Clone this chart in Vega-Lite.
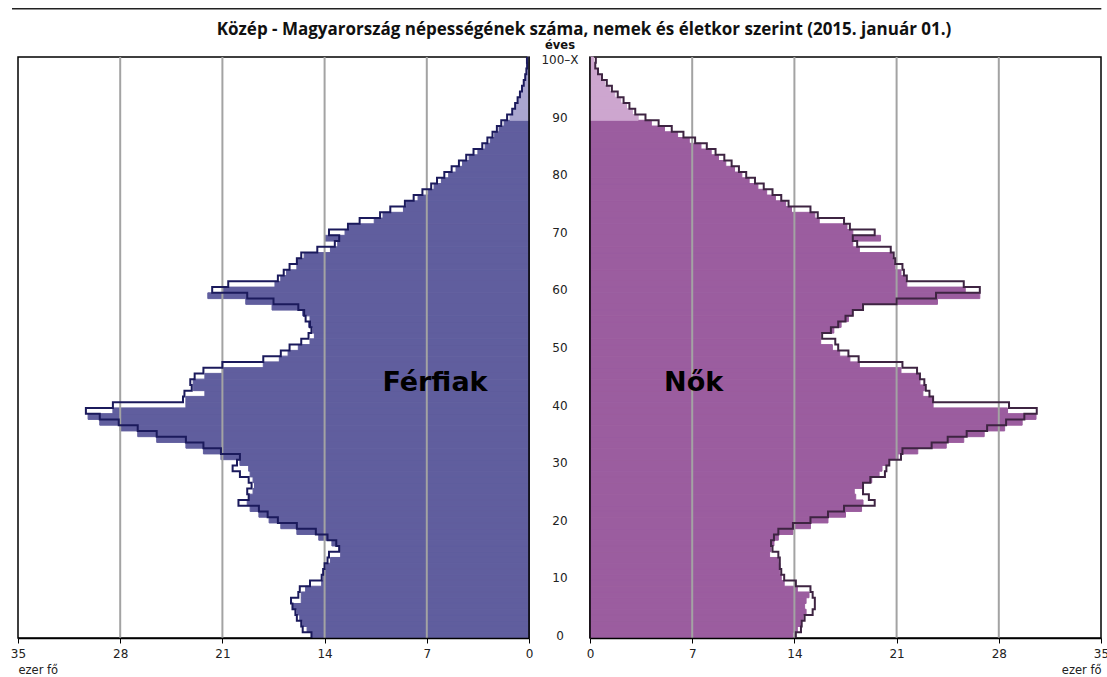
{
"$schema":"https://vega.github.io/schema/vega-lite/v6.json",
"background":"white",
"padding":{"left":9,"top":7,"right":4,"bottom":3},
"bounds":"flush",
"spacing":61,
"config":{"view":{"stroke":"#000","strokeWidth":1.5},"axis":{"labelFont":"DejaVu Sans","labelFontSize":12,"labelColor":"#222","titleFont":"DejaVu Sans","titleFontSize":11.5,"titleFontWeight":"normal","titleColor":"#222"}},
"datasets":{"pop":[
{"age":0,"men":14.9,"men_outline":14.9,"women":13.9,"women_outline":14.1},
{"age":1,"men":15.2,"men_outline":15.5,"women":14.2,"women_outline":14.45},
{"age":2,"men":15.5,"men_outline":15.6,"women":14.45,"women_outline":14.5},
{"age":3,"men":15.7,"men_outline":15.9,"women":14.6,"women_outline":14.7},
{"age":4,"men":15.9,"men_outline":16.0,"women":14.8,"women_outline":15.25},
{"age":5,"men":16.2,"men_outline":16.2,"women":14.7,"women_outline":15.4},
{"age":6,"men":15.6,"men_outline":16.3,"women":14.8,"women_outline":15.4},
{"age":7,"men":15.6,"men_outline":15.8,"women":15.0,"women_outline":15.25},
{"age":8,"men":15.3,"men_outline":15.7,"women":14.2,"women_outline":15.1},
{"age":9,"men":14.2,"men_outline":15.0,"women":13.3,"women_outline":14.1},
{"age":10,"men":14.1,"men_outline":14.2,"women":13.1,"women_outline":13.3},
{"age":11,"men":14.0,"men_outline":14.1,"women":13.0,"women_outline":13.1},
{"age":12,"men":13.9,"men_outline":14.0,"women":13.0,"women_outline":13.0},
{"age":13,"men":13.6,"men_outline":13.8,"women":12.9,"women_outline":13.0},
{"age":14,"men":12.9,"men_outline":13.7,"women":12.3,"women_outline":12.9},
{"age":15,"men":13.0,"men_outline":13.0,"women":12.4,"women_outline":12.5},
{"age":16,"men":13.5,"men_outline":13.2,"women":12.6,"women_outline":12.4},
{"age":17,"men":14.4,"men_outline":13.8,"women":12.9,"women_outline":12.6},
{"age":18,"men":15.9,"men_outline":14.6,"women":13.9,"women_outline":12.9},
{"age":19,"men":17.0,"men_outline":15.9,"women":15.1,"women_outline":13.9},
{"age":20,"men":17.8,"men_outline":17.2,"women":16.3,"women_outline":15.1},
{"age":21,"men":18.5,"men_outline":17.9,"women":17.5,"women_outline":16.3},
{"age":22,"men":19.1,"men_outline":18.5,"women":18.6,"women_outline":17.4},
{"age":23,"men":19.3,"men_outline":19.9,"women":18.7,"women_outline":19.5},
{"age":24,"men":19.2,"men_outline":19.2,"women":18.2,"women_outline":19.1},
{"age":25,"men":18.9,"men_outline":19.3,"women":18.1,"women_outline":18.7},
{"age":26,"men":18.8,"men_outline":19.0,"women":18.7,"women_outline":18.7},
{"age":27,"men":18.9,"men_outline":19.2,"women":19.3,"women_outline":19.2},
{"age":28,"men":19.1,"men_outline":19.8,"women":19.8,"women_outline":20.2},
{"age":29,"men":19.2,"men_outline":20.3,"women":20.0,"women_outline":20.3},
{"age":30,"men":19.8,"men_outline":20.0,"women":20.5,"women_outline":20.5},
{"age":31,"men":21.1,"men_outline":19.8,"women":21.1,"women_outline":21.3},
{"age":32,"men":22.3,"men_outline":21.1,"women":22.45,"women_outline":21.4},
{"age":33,"men":23.5,"men_outline":22.3,"women":24.4,"women_outline":23.4},
{"age":34,"men":25.5,"men_outline":23.5,"women":25.6,"women_outline":24.5},
{"age":35,"men":26.8,"men_outline":25.5,"women":27.0,"women_outline":25.8},
{"age":36,"men":28.0,"men_outline":26.8,"women":28.4,"women_outline":27.2},
{"age":37,"men":29.4,"men_outline":28.1,"women":29.6,"women_outline":28.5},
{"age":38,"men":30.2,"men_outline":29.4,"women":30.55,"women_outline":29.75},
{"age":39,"men":28.5,"men_outline":30.35,"women":28.6,"women_outline":30.6},
{"age":40,"men":23.5,"men_outline":28.5,"women":23.5,"women_outline":28.7},
{"age":41,"men":23.5,"men_outline":23.7,"women":23.5,"women_outline":23.5},
{"age":42,"men":22.2,"men_outline":23.6,"women":22.8,"women_outline":23.25},
{"age":43,"men":23.0,"men_outline":23.1,"women":22.9,"women_outline":23.0},
{"age":44,"men":23.0,"men_outline":23.2,"women":22.6,"women_outline":22.9},
{"age":45,"men":22.2,"men_outline":22.9,"women":22.5,"women_outline":22.6},
{"age":46,"men":21.0,"men_outline":22.3,"women":21.3,"women_outline":22.4},
{"age":47,"men":18.2,"men_outline":21.0,"women":18.45,"women_outline":21.4},
{"age":48,"men":17.1,"men_outline":18.2,"women":17.8,"women_outline":18.4},
{"age":49,"men":16.5,"men_outline":17.0,"women":17.1,"women_outline":17.7},
{"age":50,"men":15.8,"men_outline":16.4,"women":16.6,"women_outline":17.0},
{"age":51,"men":15.0,"men_outline":15.6,"women":15.8,"women_outline":16.8},
{"age":52,"men":14.7,"men_outline":15.1,"women":15.8,"women_outline":15.9},
{"age":53,"men":14.8,"men_outline":14.9,"women":16.7,"women_outline":16.5},
{"age":54,"men":15.1,"men_outline":15.0,"women":17.2,"women_outline":17.0},
{"age":55,"men":15.0,"men_outline":15.3,"women":17.7,"women_outline":17.5},
{"age":56,"men":15.5,"men_outline":15.4,"women":18.0,"women_outline":18.0},
{"age":57,"men":17.6,"men_outline":15.8,"women":18.6,"women_outline":18.7},
{"age":58,"men":19.4,"men_outline":17.5,"women":23.8,"women_outline":21.0},
{"age":59,"men":22.0,"men_outline":19.3,"women":26.7,"women_outline":23.7},
{"age":60,"men":21.0,"men_outline":21.7,"women":25.7,"women_outline":26.7},
{"age":61,"men":17.4,"men_outline":20.6,"women":21.7,"women_outline":25.6},
{"age":62,"men":17.0,"men_outline":17.2,"women":21.6,"women_outline":21.7},
{"age":63,"men":16.6,"men_outline":16.8,"women":21.3,"women_outline":21.5},
{"age":64,"men":15.9,"men_outline":16.4,"women":20.9,"women_outline":21.4},
{"age":65,"men":15.9,"men_outline":15.9,"women":20.8,"women_outline":20.9},
{"age":66,"men":15.4,"men_outline":15.6,"women":20.7,"women_outline":20.8},
{"age":67,"men":13.6,"men_outline":14.5,"women":18.45,"women_outline":20.6},
{"age":68,"men":13.1,"men_outline":13.3,"women":18.0,"women_outline":18.3},
{"age":69,"men":14.0,"men_outline":13.0,"women":19.9,"women_outline":18.0},
{"age":70,"men":12.6,"men_outline":13.7,"women":18.0,"women_outline":19.5},
{"age":71,"men":12.3,"men_outline":12.4,"women":17.6,"women_outline":17.8},
{"age":72,"men":10.6,"men_outline":11.6,"women":15.7,"women_outline":17.4},
{"age":73,"men":10.0,"men_outline":10.2,"women":15.4,"women_outline":15.6},
{"age":74,"men":8.6,"men_outline":9.5,"women":13.8,"women_outline":15.1},
{"age":75,"men":8.4,"men_outline":8.5,"women":13.4,"women_outline":13.6},
{"age":76,"men":7.6,"men_outline":7.9,"women":12.7,"women_outline":13.1},
{"age":77,"men":6.9,"men_outline":7.3,"women":12.1,"women_outline":12.5},
{"age":78,"men":6.5,"men_outline":6.7,"women":11.5,"women_outline":11.9},
{"age":79,"men":6.0,"men_outline":6.3,"women":10.9,"women_outline":11.3},
{"age":80,"men":5.5,"men_outline":5.8,"women":10.4,"women_outline":10.7},
{"age":81,"men":5.0,"men_outline":5.3,"women":9.9,"women_outline":10.2},
{"age":82,"men":4.55,"men_outline":4.8,"women":9.3,"women_outline":9.7},
{"age":83,"men":4.1,"men_outline":4.3,"women":8.8,"women_outline":9.2},
{"age":84,"men":3.5,"men_outline":3.8,"women":8.3,"women_outline":8.6},
{"age":85,"men":3.0,"men_outline":3.2,"women":7.6,"women_outline":8.0},
{"age":86,"men":2.65,"men_outline":2.85,"women":6.8,"women_outline":7.2},
{"age":87,"men":2.35,"men_outline":2.5,"women":6.0,"women_outline":6.4},
{"age":88,"men":2.05,"men_outline":2.2,"women":5.1,"women_outline":5.6},
{"age":89,"men":1.7,"men_outline":1.9,"women":4.2,"women_outline":4.7},
{"age":90,"men":1.3,"men_outline":1.5,"women":3.3,"women_outline":3.8},
{"age":91,"men":1.05,"men_outline":1.15,"women":2.9,"women_outline":3.1},
{"age":92,"men":0.85,"men_outline":0.95,"women":2.5,"women_outline":2.7},
{"age":93,"men":0.7,"men_outline":0.78,"women":2.1,"women_outline":2.3},
{"age":94,"men":0.55,"men_outline":0.62,"women":1.7,"women_outline":1.9},
{"age":95,"men":0.42,"men_outline":0.48,"women":1.35,"women_outline":1.5},
{"age":96,"men":0.32,"men_outline":0.36,"women":1.0,"women_outline":1.15},
{"age":97,"men":0.22,"men_outline":0.26,"women":0.7,"women_outline":0.82},
{"age":98,"men":0.15,"men_outline":0.18,"women":0.45,"women_outline":0.55},
{"age":99,"men":0.1,"men_outline":0.13,"women":0.3,"women_outline":0.36},
{"age":100,"men":0.12,"men_outline":0.14,"women":0.25,"women_outline":0.4}
]},
"hconcat":[
{
"width":511,"height":581,
"layer":[
{"data":{"name":"pop"},
"transform":[{"bin":{"step":1,"extent":[0,101],"nice":false},"field":"age","as":["a0","a1"]}],
"mark":{"type":"rect","strokeWidth":1},
"encoding":{
"x":{"field":"men","type":"quantitative","scale":{"domain":[0,35],"reverse":true,"nice":false},"axis":{"values":[0,7,14,21,28,35],"format":"d","grid":false,"domainColor":"#000","domainWidth":1.5,"tickColor":"#000","tickSize":5,"labelPadding":5,"labelFlush":false,"labelOverlap":false,"title":"ezer fő","titleX":0,"titleY":26,"titleAlign":"left","titleBaseline":"top","zindex":1}},
"x2":{"datum":0},
"y":{"field":"a0","type":"quantitative","scale":{"domain":[0,101],"nice":false,"zero":false},"axis":null},
"y2":{"field":"a1"},
"color":{"condition":{"test":"datum.age >= 90","value":"#aaa6cf"},"value":"#605e9e"},
"stroke":{"condition":{"test":"datum.age >= 90","value":"#aaa6cf"},"value":"#605e9e"}
}},
{"data":{"values":[{"g":7},{"g":14},{"g":21},{"g":28}]},
"mark":{"type":"rule","color":"#a3a3a3","strokeWidth":2},
"encoding":{"x":{"field":"g","type":"quantitative"}}},
{"data":{"name":"pop"},
"transform":[{"bin":{"step":1,"extent":[0,101],"nice":false},"field":"age","as":["a0","a1"]},{"fold":["a0","a1"],"as":["edge","ypos"]}],
"mark":{"type":"line","color":"#1b1a5c","strokeWidth":2,"strokeJoin":"miter"},
"encoding":{"x":{"field":"men_outline","type":"quantitative"},"y":{"field":"ypos","type":"quantitative"},"order":{"value":null}}},
{"data":{"values":[{"r":0}]},
"mark":{"type":"rule","color":"#000","strokeWidth":1.5},
"encoding":{"x":{"datum":0}}},
{"data":{"values":[{"label":"Férfiak"}]},
"mark":{"type":"text","font":"DejaVu Sans","fontSize":27,"fontWeight":"bold","color":"#000","align":"center","baseline":"middle"},
"encoding":{"x":{"datum":6.44},"y":{"datum":44.3},"text":{"field":"label"}}},
{"data":{"values":[{"label":"Közép - Magyarország népességének száma, nemek és életkor szerint (2015. január 01.)"}]},
"mark":{"type":"text","font":"Open Sans","fontSize":17,"fontWeight":"bold","color":"#111","align":"center","baseline":"middle"},
"encoding":{"x":{"datum":-3.77},"y":{"datum":105.75},"text":{"field":"label"}}},
{"data":{"values":[{"r":0}]},
"mark":{"type":"rule","color":"#222","strokeWidth":1.5},
"encoding":{"x":{"datum":35.41},"x2":{"datum":-39.2},"y":{"datum":109.4}}}
]
},
{
"width":511,"height":581,
"layer":[
{"data":{"name":"pop"},
"transform":[{"bin":{"step":1,"extent":[0,101],"nice":false},"field":"age","as":["a0","a1"]}],
"mark":{"type":"rect","strokeWidth":1},
"encoding":{
"x":{"field":"women","type":"quantitative","scale":{"domain":[0,35],"nice":false},"axis":{"values":[0,7,14,21,28,35],"format":"d","grid":false,"domainColor":"#000","domainWidth":1.5,"tickColor":"#000","tickSize":5,"labelPadding":5,"labelFlush":false,"labelOverlap":false,"title":"ezer fő","titleX":511,"titleY":26,"titleAlign":"right","titleBaseline":"top","zindex":1}},
"x2":{"datum":0},
"y":{"field":"a0","type":"quantitative","scale":{"domain":[0,101],"nice":false,"zero":false},"axis":{"values":[0.5,5.5,10.5,15.5,20.5,25.5,30.5,35.5,40.5,45.5,50.5,55.5,60.5,65.5,70.5,75.5,80.5,85.5,90.5,95.5,100.5],"labelExpr":"datum.value > 100 ? '100–X' : format(floor(datum.value), 'd')","ticks":false,"tickSize":0,"domain":false,"grid":false,"labelAlign":"center","labelBaseline":"middle","labelPadding":30.5,"labelFontSize":12,"labelFlush":false,"labelOverlap":false,"title":"éves","titleAngle":0,"titleX":-30.5,"titleY":-7,"titleAlign":"center","titleBaseline":"bottom","titleFontWeight":"bold","titleColor":"#111"}},
"y2":{"field":"a1"},
"color":{"condition":{"test":"datum.age >= 90","value":"#cda6cf"},"value":"#9b5d9f"},
"stroke":{"condition":{"test":"datum.age >= 90","value":"#cda6cf"},"value":"#9b5d9f"}
}},
{"data":{"values":[{"g":7},{"g":14},{"g":21},{"g":28}]},
"mark":{"type":"rule","color":"#a3a3a3","strokeWidth":2},
"encoding":{"x":{"field":"g","type":"quantitative"}}},
{"data":{"name":"pop"},
"transform":[{"bin":{"step":1,"extent":[0,101],"nice":false},"field":"age","as":["a0","a1"]},{"fold":["a0","a1"],"as":["edge","ypos"]}],
"mark":{"type":"line","color":"#3e2442","strokeWidth":2,"strokeJoin":"miter"},
"encoding":{"x":{"field":"women_outline","type":"quantitative"},"y":{"field":"ypos","type":"quantitative"},"order":{"value":null}}},
{"data":{"values":[{"r":0}]},
"mark":{"type":"rule","color":"#000","strokeWidth":1.5},
"encoding":{"x":{"datum":0}}},
{"data":{"values":[{"label":"Nők"}]},
"mark":{"type":"text","font":"DejaVu Sans","fontSize":27,"fontWeight":"bold","color":"#000","align":"center","baseline":"middle"},
"encoding":{"x":{"datum":7.1},"y":{"datum":44.3},"text":{"field":"label"}}}
]
}
]
}
